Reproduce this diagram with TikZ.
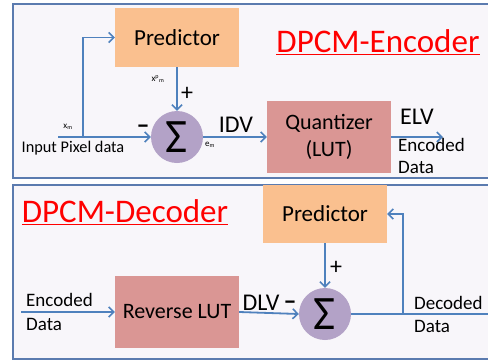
\documentclass[tikz,border=0pt]{standalone}
\usepackage{fontspec}
\setmainfont{Carlito}
\usetikzlibrary{arrows.meta}
\definecolor{framec}{HTML}{5B7BAF}
\definecolor{bgc}{HTML}{F8F6FA}
\definecolor{predc}{HTML}{FAC08F}
\definecolor{quantc}{HTML}{DA9694}
\definecolor{sigc}{HTML}{B3A2C7}
\definecolor{arrc}{HTML}{4F81BD}
\tikzset{
  panel/.style={draw=framec, line width=1.8pt, fill=bgc},
  box/.style={rectangle, inner sep=0pt, align=center},
  predbox/.style={box, fill=predc, minimum width=124pt, font=\fontsize{23}{26}\selectfont},
  quantbox/.style={box, fill=quantc, minimum width=124pt, minimum height=72pt, font=\fontsize{22}{27}\selectfont},
  sumnode/.style={circle, fill=sigc, minimum size=52pt, inner sep=0pt, font=\fontsize{48}{48}\selectfont},
  flow/.style={draw=arrc, line width=1.8pt},
  arr/.style={flow, -{Straight Barb[length=5pt,width=10pt,line width=1.6pt]}},
  lbl/.style={inner sep=0pt, font=\fontsize{24}{26}\selectfont},
  small/.style={inner sep=0pt, font=\fontsize{19}{22}\selectfont, align=left},
  tiny/.style={inner sep=0pt, font=\fontsize{9}{10}\selectfont},
  title/.style={inner sep=0pt, text=red, font=\fontsize{33}{36}\selectfont},
  minus/.style={inner sep=0pt, font=\fontsize{26}{26}\bfseries\selectfont},
  plus/.style={inner sep=0pt, font=\fontsize{24}{24}\selectfont},
}
\begin{document}
\begin{tikzpicture}[x=1pt,y=-1pt]
\useasboundingbox (0,0) rectangle (488,362);
\fill[white] (0,0) rectangle (488,362);
\path[panel] (13,4) rectangle (500,178);
\path[panel] (13,185) rectangle (500,359);

% Encoder
\node[predbox, minimum height=59pt] (pred1) at (177,37.5) {Predictor};
\node[sumnode] (sig1) at (177,137) {\raisebox{-1pt}{Σ}};
\node[quantbox] (quant) at (329,137) {Quantizer\\(LUT)};
\node[title] (enct) at (378,42) {\underline{DPCM-Encoder}};
\coordinate (in1) at (58,137);
\coordinate (br1) at (83,137);
\coordinate (out1) at (443,137);
\draw[arr] (in1) -- (sig1.west);
\draw[arr] (br1) |- (pred1.west);
\draw[arr] (pred1.south) -- (sig1.north);
\draw[arr] (sig1.east) -- (quant.west);
\draw[arr] (quant.east) -- (out1);
\node[small, font=\fontsize{16.3}{18}\selectfont] (inpix) at (73,148) {Input Pixel data};
\node[tiny] (xm) at (68,127) {x$_{\mathrm m}$};
\node[tiny] (xpm) at (158,79) {x$^{\mathrm p}{}_{\mathrm m}$};
\node[tiny] (em) at (210,145) {e$_{\mathrm m}$};
\node[minus] (minus1) at (143,129) {–};
\node[plus] (plus1) at (187,94) {+};
\node[lbl] (idv) at (236,125) {IDV};
\node[lbl] (elv) at (417,117) {ELV};
\node[small, anchor=west] (enc1) at (398,145) {Encoded};
\node[small, anchor=west] (dat1) at (398,167) {Data};

% Decoder
\node[title] (dect) at (125,212) {\underline{DPCM-Decoder}};
\node[quantbox] (rlut) at (177,312) {Reverse LUT};
\node[predbox, minimum height=58pt] (pred2) at (325,214) {Predictor};
\node[sumnode] (sig2) at (325,314) {\raisebox{-1pt}{Σ}};
\coordinate (in2) at (21,312);
\coordinate (br2) at (403,314);
\coordinate (out2) at (492,314);
\draw[arr] (in2) -- (rlut.west);
\draw[arr] (rlut.east) -- (sig2.west);
\draw[arr] (pred2.south) -- (sig2.north);
\draw[flow] (sig2.east) -- (out2);
\draw[arr] (br2) |- (pred2.east);
\node[small, anchor=west] (enc2) at (26,300) {Encoded};
\node[small, anchor=west] (dat2) at (26,324) {Data};
\node[lbl] (dlv) at (261,303) {DLV};
\node[minus] (minus2) at (290,305) {–};
\node[plus] (plus2) at (336,268) {+};
\node[small, anchor=west] (dec2) at (414,303) {Decoded};
\node[small, anchor=west] (dat3) at (414,326) {Data};
\end{tikzpicture}
\end{document}
